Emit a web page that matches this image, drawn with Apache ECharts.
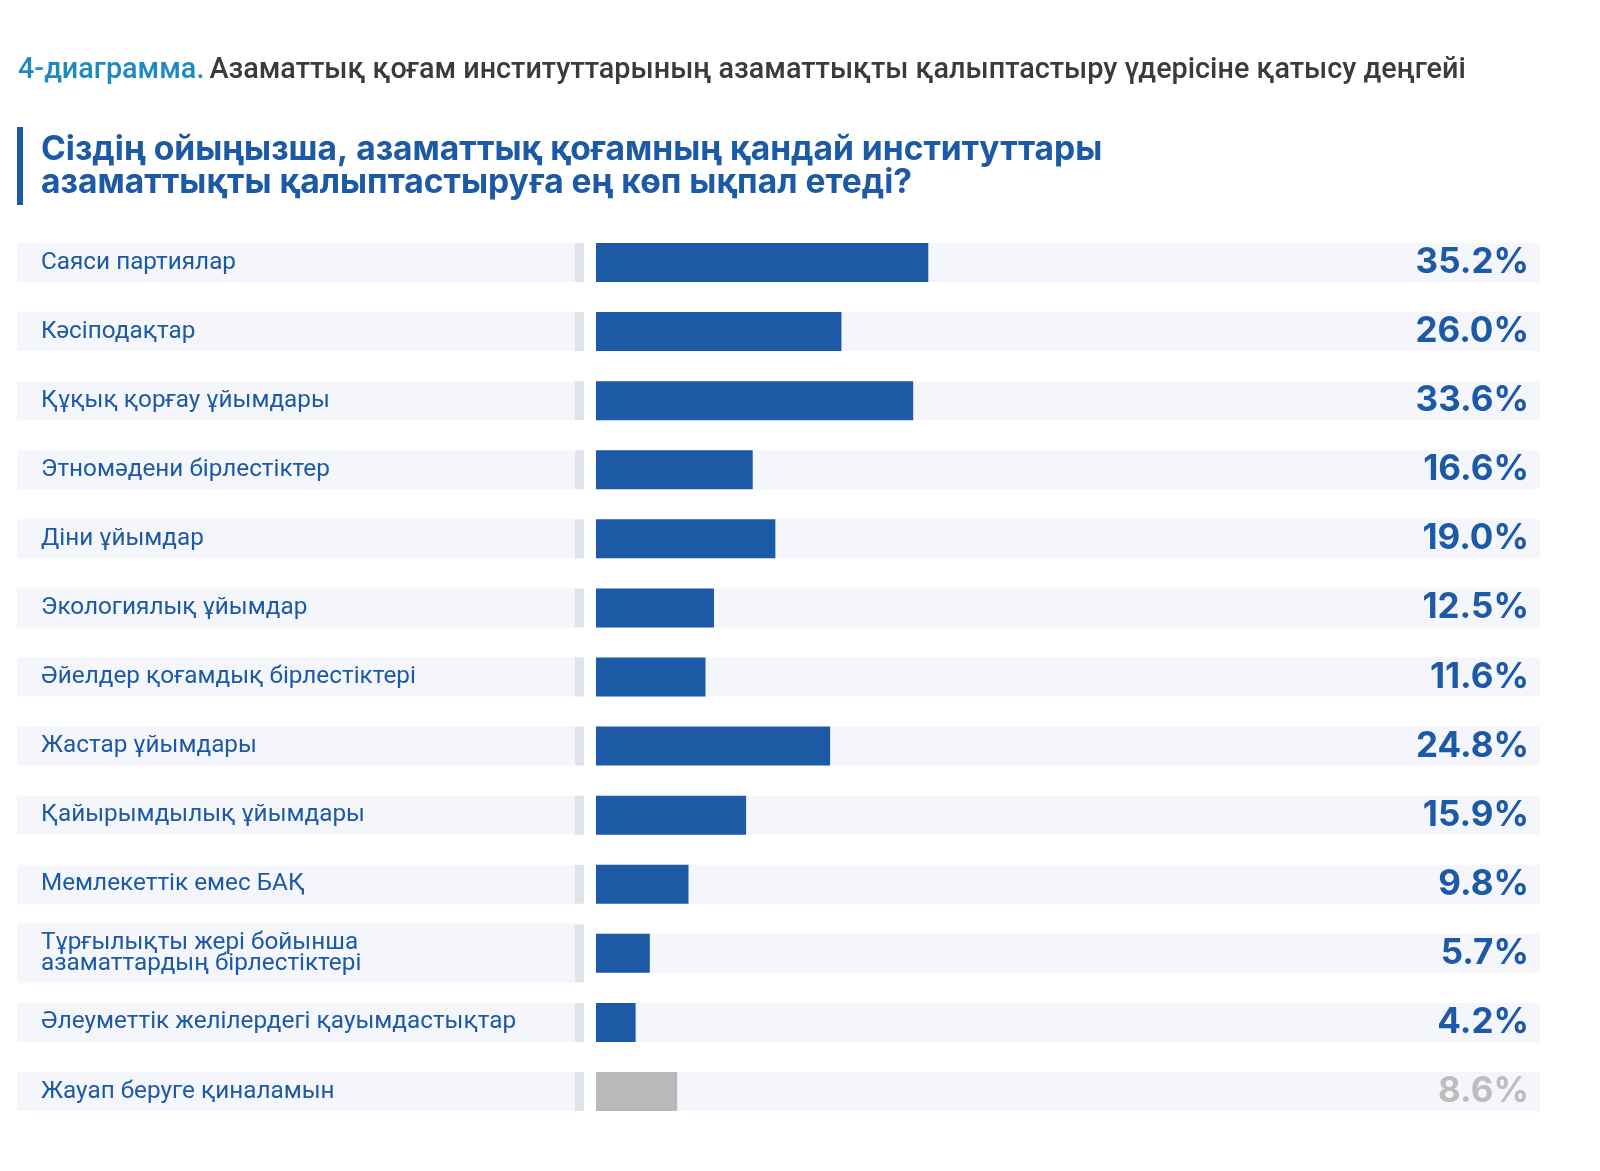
<!DOCTYPE html>
<html>
<head>
<meta charset="utf-8">
<script src="https://cdn.jsdelivr.net/npm/echarts@6/dist/echarts.min.js"></script>
<style>
  html, body { margin: 0; padding: 0; background: #ffffff; }
  #chart { width: 1600px; height: 1171px; }
</style>
</head>
<body>
<div id="chart"></div>
<script>
// данные диаграммы
var categories = [
  'Саяси партиялар',
  'Кәсіподақтар',
  'Құқық қорғау ұйымдары',
  'Этномәдени бірлестіктер',
  'Діни ұйымдар',
  'Экологиялық ұйымдар',
  'Әйелдер қоғамдық бірлестіктері',
  'Жастар ұйымдары',
  'Қайырымдылық ұйымдары',
  'Мемлекеттік емес БАҚ',
  'Тұрғылықты жері бойынша\nазаматтардың бірлестіктері',
  'Әлеуметтік желілердегі қауымдастықтар',
  'Жауап беруге қиналамын'
];
var values = [35.2, 26.0, 33.6, 16.6, 19.0, 12.5, 11.6, 24.8, 15.9, 9.8, 5.7, 4.2, 8.6];

var headNum = '4-диаграмма.';
var headText = 'Азаматтық қоғам институттарының азаматтықты қалыптастыру үдерісіне қатысу деңгейі';
var question = 'Сіздің ойыңызша, азаматтық қоғамның қандай институттары\nазаматтықты қалыптастыруға ең көп ықпал етеді?';

var blue = '#1d5aa5';
var gray = '#b9b9b9';
var rowBg = '#f4f6fb';

function isLast(i) {
  return i === categories.length - 1;
}

var chart = echarts.init(document.getElementById('chart'));

var option = {
  backgroundColor: '#ffffff',
  animation: false,
  title: [
    {
      left: 18,
      top: 56,
      padding: 0,
      text: '{a|' + headNum + '} {b|' + headText + '}',
      textStyle: {
        rich: {
          a: { fontFamily: 'Roboto', fontWeight: 500, fontSize: 28.8, color: '#1b8bc2' },
          b: { fontFamily: 'Roboto', fontWeight: 500, fontSize: 28.8, color: '#3b3b3b' }
        }
      }
    },
    {
      left: 41,
      top: 133,
      padding: 0,
      text: question,
      textStyle: {
        fontFamily: 'Inter',
        fontWeight: 700,
        fontSize: 33.6,
        lineHeight: 33,
        color: blue
      }
    }
  ],
  graphic: [
    // синяя вертикальная черта у вопроса
    { type: 'rect', left: 17, top: 127, shape: { width: 6, height: 78 }, style: { fill: blue } }
  ],
  grid: { left: 596, right: 60, top: 228, bottom: 45 },
  xAxis: { type: 'value', min: 0, max: 100, show: false },
  yAxis: [
    {
      type: 'category',
      data: categories,
      inverse: true,
      axisLine: { show: false },
      axisTick: { show: false },
      axisLabel: {
        interval: 0,
        align: 'left',
        margin: 579,
        fontFamily: 'Roboto',
        fontSize: 24.3,
        lineHeight: 21,
        color: blue,
        backgroundColor: rowBg,
        width: 534,
        padding: [9, 0, 9, 24]
      }
    },
    {
      // серая полоска-разделитель
      type: 'category',
      data: categories,
      inverse: true,
      position: 'left',
      axisLine: { show: false },
      axisTick: { show: false },
      axisLabel: {
        interval: 0,
        margin: 12,
        formatter: function (v) {
          return v.indexOf('\n') >= 0 ? '{t| }' : '{s| }';
        },
        rich: {
          s: { width: 9, height: 39, backgroundColor: '#dfe3ec' },
          t: { width: 9, height: 58, backgroundColor: '#dfe3ec' }
        }
      }
    },
    {
      // проценты справа
      type: 'category',
      data: categories,
      inverse: true,
      position: 'right',
      z: 10,
      axisLine: { show: false },
      axisTick: { show: false },
      axisLabel: {
        interval: 0,
        align: 'right',
        margin: -11,
        formatter: function (v, i) {
          var txt = values[i].toFixed(1) + '%';
          return isLast(i) ? '{g|' + txt + '}' : '{p|' + txt + '}';
        },
        rich: {
          p: { fontFamily: 'Inter', fontWeight: 700, fontSize: 35, color: blue },
          g: { fontFamily: 'Inter', fontWeight: 700, fontSize: 35, color: '#bdbdbd' }
        }
      }
    }
  ],
  series: [
    {
      type: 'bar',
      data: values,
      barWidth: 39,
      silent: true,
      showBackground: true,
      backgroundStyle: { color: rowBg },
      itemStyle: {
        color: function (p) {
          return isLast(p.dataIndex) ? gray : blue;
        }
      }
    }
  ]
};

chart.setOption(option);
</script>
</body>
</html>
